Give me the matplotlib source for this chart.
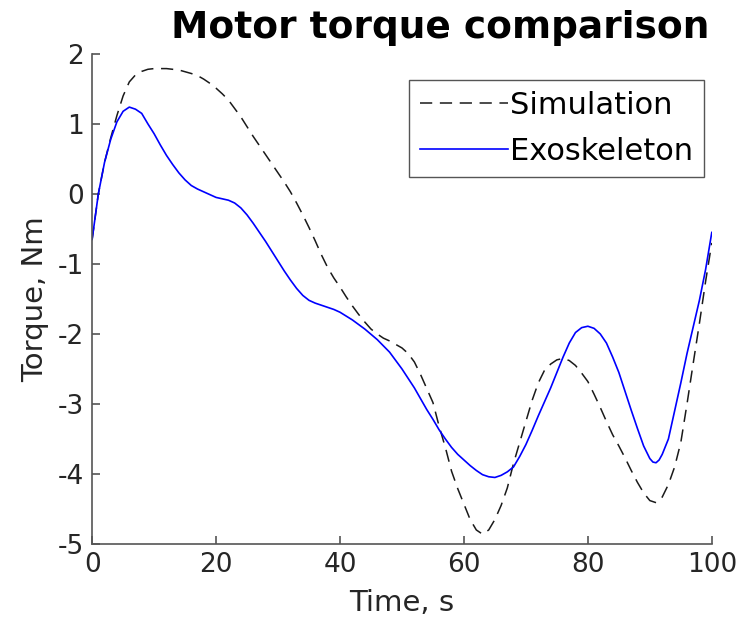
import numpy as np
import matplotlib
matplotlib.use("Agg")
import matplotlib.pyplot as plt

# time (s) and torque (Nm) for the simulated motor
t_sim = [0, 1, 2, 3, 4, 5, 6, 7, 8, 9, 10, 12, 14, 16, 17, 18, 19, 20, 21,
         22, 23, 24, 25, 26, 27, 28, 29, 30, 31, 32, 33, 34, 35, 36, 37, 38,
         39, 40, 41, 42, 43, 44, 45, 46, 47, 48, 49, 50, 51, 52, 53, 54, 55,
         56, 57, 58, 59, 60, 61, 62, 63, 64, 65, 66, 67, 68, 69, 70, 71, 72,
         73, 74, 75, 76, 77, 78, 79, 80, 81, 82, 83, 84, 85, 86, 87, 88, 89,
         90, 91, 92, 93, 94, 95, 96, 97, 98, 99, 100]
torque_sim = [-0.65, 0.0, 0.45, 0.8, 1.12, 1.4, 1.6, 1.7, 1.75, 1.78, 1.79,
              1.79, 1.77, 1.72, 1.69, 1.64, 1.58, 1.51, 1.43, 1.34, 1.22,
              1.1, 0.96, 0.82, 0.69, 0.56, 0.43, 0.3, 0.17, 0.03, -0.13,
              -0.3, -0.48, -0.67, -0.87, -1.05, -1.2, -1.33, -1.47, -1.6,
              -1.72, -1.83, -1.93, -2.0, -2.06, -2.1, -2.15, -2.2, -2.28,
              -2.4, -2.58, -2.78, -2.98, -3.32, -3.62, -3.96, -4.21, -4.43,
              -4.65, -4.8, -4.86, -4.8, -4.65, -4.45, -4.2, -3.85, -3.55,
              -3.25, -2.95, -2.7, -2.52, -2.43, -2.37, -2.35, -2.38, -2.45,
              -2.56, -2.68, -2.86, -3.05, -3.25, -3.44, -3.6, -3.77, -3.95,
              -4.12, -4.27, -4.38, -4.41, -4.33, -4.15, -3.9, -3.55, -3.0,
              -2.42, -1.85, -1.25, -0.7]

# time (s) and torque (Nm) measured on the exoskeleton
t_exo = [0, 1, 2, 3, 4, 5, 6, 7, 8, 9, 10, 11, 12, 13, 14, 15, 16, 17, 18,
         19, 20, 21, 22, 23, 24, 25, 26, 27, 28, 29, 30, 31, 32, 33, 34, 35,
         36, 37, 38, 39, 40, 42, 44, 46, 48, 50, 52, 54, 55, 56, 57, 58, 59,
         60, 61, 62, 63, 64, 65, 66, 67, 68, 69, 70, 71, 72, 73, 74, 75, 76,
         77, 78, 79, 80, 81, 82, 83, 84, 85, 86, 87, 88, 89, 90, 90.5, 91,
         91.5, 92, 93, 94, 95, 96, 97, 98, 99, 100]
torque_exo = [-0.65, 0.0, 0.45, 0.78, 1.03, 1.18, 1.24, 1.21, 1.15, 1.0,
              0.86, 0.7, 0.55, 0.42, 0.3, 0.2, 0.12, 0.07, 0.03, -0.01,
              -0.05, -0.07, -0.09, -0.13, -0.2, -0.3, -0.42, -0.55, -0.68,
              -0.82, -0.96, -1.1, -1.23, -1.35, -1.45, -1.52, -1.56, -1.59,
              -1.62, -1.65, -1.69, -1.8, -1.93, -2.08, -2.26, -2.5, -2.77,
              -3.08, -3.22, -3.37, -3.5, -3.62, -3.72, -3.8, -3.88, -3.95,
              -4.01, -4.04, -4.05, -4.02, -3.97, -3.9, -3.75, -3.58, -3.38,
              -3.17, -2.97, -2.77, -2.55, -2.33, -2.13, -1.98, -1.91, -1.89,
              -1.92, -2.0, -2.13, -2.33, -2.55, -2.82, -3.09, -3.35, -3.6,
              -3.78, -3.83, -3.84, -3.8, -3.72, -3.5, -3.1, -2.7, -2.28,
              -1.9, -1.52, -1.08, -0.55]

x_ticks = [0, 20, 40, 60, 80, 100]
y_ticks = [-5, -4, -3, -2, -1, 0, 1, 2]

plt.rcParams["font.family"] = "DejaVu Sans"
plt.rcParams["axes.unicode_minus"] = False
plt.rcParams["xtick.direction"] = "in"
plt.rcParams["ytick.direction"] = "in"

fig = plt.figure(figsize=(7.43, 6.34), dpi=100)
ax = fig.add_axes([0.124, 0.142, 0.834, 0.773])

ax.plot(t_sim, torque_sim, color="#1a1a1a", lw=1.1, dashes=(8, 5),
        label="Simulation")
ax.plot(t_exo, torque_exo, color="#0000ff", lw=1.2, label="Exoskeleton")

ax.set_xlim(0, 100)
ax.set_ylim(-5, 2)
ax.set_xticks(x_ticks)
ax.set_yticks(y_ticks)

for side in ("top", "right"):
    ax.spines[side].set_visible(False)
for side in ("left", "bottom"):
    ax.spines[side].set_color("#555555")
    ax.spines[side].set_linewidth(1.2)

ax.tick_params(direction="in", length=6, width=1.2, color="#555555",
               labelsize=19, labelcolor="#262626", pad=6)
ax.set_xlabel("Time, s", fontsize=21, color="#262626", labelpad=8)
ax.set_ylabel("Torque, Nm", fontsize=21, color="#262626", labelpad=6)

fig.text(0.955, 0.94, "Motor torque comparison", ha="right",
         va="baseline", fontsize=27, fontweight="bold")

leg = ax.legend(loc="upper right", bbox_to_anchor=(0.987, 0.946),
                fontsize=22, frameon=True, fancybox=False, framealpha=1,
                handlelength=2.9, handletextpad=0.05, borderpad=0.35,
                labelspacing=0.55, borderaxespad=0)
leg.get_frame().set_edgecolor("#555555")
leg.get_frame().set_linewidth(1.0)

fig.savefig("out.png", dpi=100)
